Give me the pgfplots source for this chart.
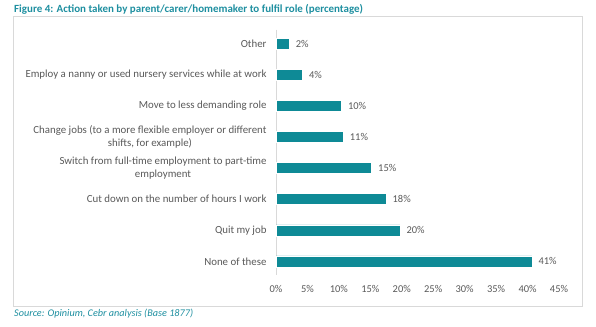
\documentclass[border=0pt]{standalone}
\usepackage{pgfplots}
\pgfplotsset{compat=1.18}
\usepackage{fontspec}
\setmainfont{Carlito}
\definecolor{barcol}{HTML}{0E8A96}
\definecolor{titlecol}{HTML}{1E8FA0}
\definecolor{txtgray}{HTML}{595959}
\definecolor{framegray}{HTML}{D9D9D9}
\begin{document}
\begin{tikzpicture}[x=1bp,y=1bp]
\path[use as bounding box] (0,0) rectangle (596,-326);
\draw[framegray, line width=1bp] (13.5,-16) rectangle (582,-306);
\node[anchor=west, text=titlecol, font=\fontsize{11}{13}\selectfont\bfseries, inner sep=0pt] at (14,-9) {Figure 4: Action taken by parent/carer/homemaker to fulfil role (percentage)};
\node[anchor=west, text=titlecol, font=\fontsize{10.25}{12}\selectfont\itshape, inner sep=0pt] at (14,-314) {Source: Opinium, Cebr analysis (Base 1877)};
\begin{axis}[
  at={(276bp,-277bp)}, anchor=south west,
  scale only axis, width=283bp, height=249bp,
  xbar, bar width=11bp,
  xmin=0, xmax=45,
  ymin=-0.5, ymax=7.5, y dir=reverse,
  xtick={0,5,...,45},
  xticklabel={\pgfmathprintnumber{\tick}\%},
  /pgf/number format/assume math mode=true,
  ytick={0,...,7},
  yticklabels={Other,Employ a nanny or used nursery services while at work,Move to less demanding role,{Change jobs (to a more flexible employer or different\\shifts, for example)},{Switch from full-time employment to part-time\\employment},Cut down on the number of hours I work,Quit my job,None of these},
  yticklabel style={align=center, font=\fontsize{10.9}{12.5}\selectfont, text=txtgray},
  xticklabel style={font=\fontsize{10.5}{12}\selectfont, text=txtgray},
  axis line style={draw=none},
  major tick length=0pt,
  tick style={draw=none},
  xtick pos=bottom, ytick pos=left,
  xticklabel shift=5bp,
  yticklabel shift=6bp,
  nodes near coords,
  point meta=explicit symbolic,
  nodes near coords style={anchor=west, xshift=3bp, font=\fontsize{10.5}{12}\selectfont, text=txtgray},
  clip=false,
]
\draw[framegray, line width=1bp] (axis cs:0,-0.45) -- (axis cs:0,7.45);
\addplot[fill=barcol, draw=white, line width=0.6bp] table[meta=lab] {
x y lab
2.1 0 2\%
4.2 1 4\%
10.4 2 10\%
10.7 3 11\%
15.2 4 15\%
17.5 5 18\%
19.7 6 20\%
40.7 7 41\%
};
\end{axis}
\end{tikzpicture}
\end{document}
